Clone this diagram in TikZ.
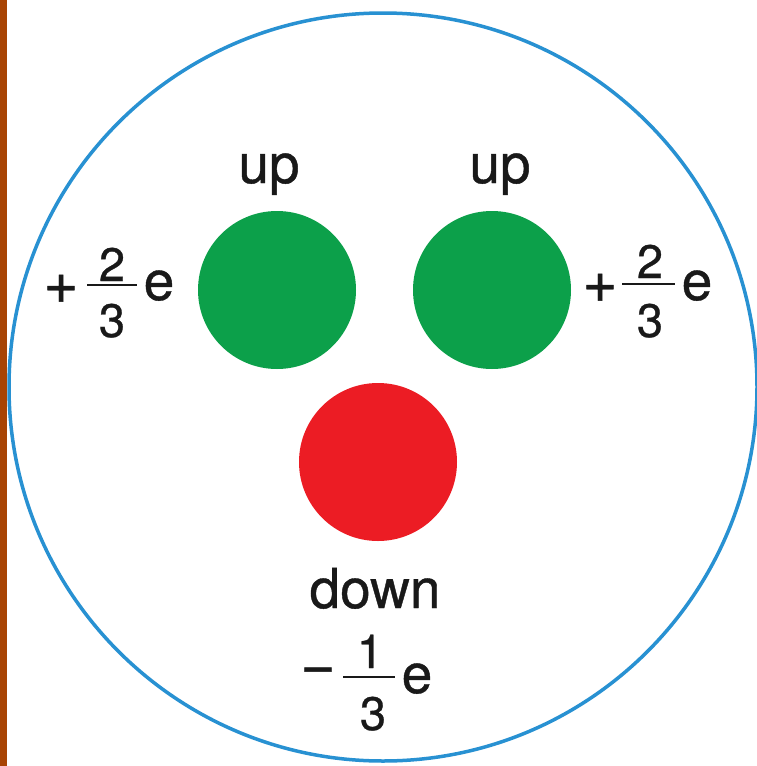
\documentclass[tikz,border=0pt]{standalone}
\usepackage{fontspec}
\setmainfont{TeX Gyre Heros}[FakeBold=0.7]
\definecolor{strip}{RGB}{168,68,4}
\definecolor{ring}{RGB}{40,145,210}
\definecolor{qgreen}{RGB}{12,160,74}
\definecolor{qred}{RGB}{236,28,36}
\definecolor{txt}{RGB}{25,25,25}
\begin{document}
\begin{tikzpicture}[x=1pt,y=-1pt,
  quark/.style={circle, minimum size=158pt, inner sep=0pt},
  word/.style={font=\fontsize{55}{60}\selectfont, text=txt, inner sep=0pt, anchor=base},
  digit/.style={font=\fontsize{47}{50}\selectfont, text=txt, inner sep=0pt, anchor=base},
  sym/.style={font=\fontsize{60}{64}\selectfont, text=txt, inner sep=0pt},
  fbar/.style={fill=txt, minimum height=2.5pt, inner sep=0pt}]
\useasboundingbox (0,0) rectangle (757,766);
\fill[white] (0,0) rectangle (757,766);
\fill[strip] (0,0) rectangle (7,766);
\node[draw=ring, line width=3.5pt, circle, minimum size=748pt, inner sep=0pt] (proton) at (383,387) {};
% quarks
\node[quark, fill=qgreen] (uL) at (277,290) {};
\node[quark, fill=qgreen] (uR) at (492,290) {};
\node[quark, fill=qred] (dq) at (378,462) {};
% names
\node[word] (upLtxt) at (269,183) {up};
\node[word] (upRtxt) at (500,183) {up};
\node[word] (downtxt) at (375,608) {down};
% left charge
\node[sym] (plusL) at (61,289) {+};
\node[fbar, minimum width=50pt] (barL) at (112,285) {};
\node[digit] (numL) at (112,281) {2};
\node[digit] (denL) at (112,337) {3};
\node[word] (eL) at (159,300) {e};
% right charge
\node[sym] (plusR) at (600,288) {+};
\node[fbar, minimum width=53pt] (barR) at (648,284) {};
\node[digit] (numR) at (650,278) {2};
\node[digit] (denR) at (650,337) {3};
\node[word] (eD0) at (697,300) {e};
% down charge
\node[sym] (minusD) at (318,676) {−};
\node[fbar, minimum width=52pt] (barD) at (369,677) {};
\node[digit] (numD) at (370,668) {1};
\node[digit] (denD) at (373,730) {3};
\node[word] (eD) at (417,693) {e};
\end{tikzpicture}
\end{document}
